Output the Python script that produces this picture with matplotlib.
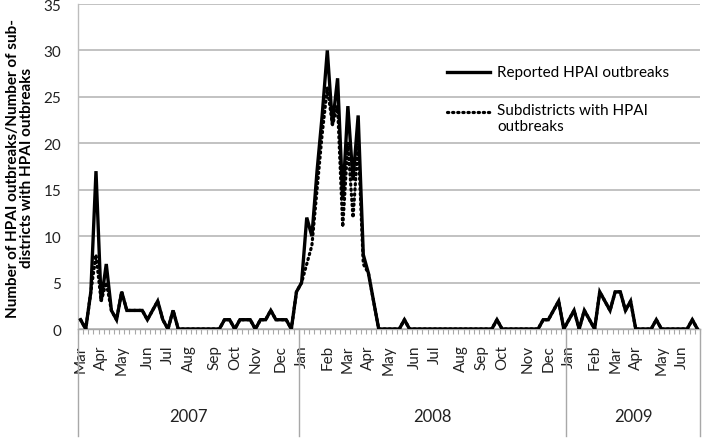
import numpy as np
import pandas as pd
import matplotlib
matplotlib.use("Agg")
import matplotlib.pyplot as plt
import matplotlib.transforms as mtransforms

plt.rcParams["font.family"] = ["Lato", "DejaVu Sans"]

# ---- data (weekly, from week of 8 Mar 2007) ----
first_week = "2007-03-08"
reported_2007 = [1, 0, 4, 17, 3, 7, 2, 1, 4, 2, 2, 2, 2, 1, 2, 3, 1, 0, 2, 0,
                 0, 0, 0, 0, 0, 0, 0, 0,
                 1, 1, 0, 1, 1, 1, 0, 1, 1, 2, 1, 1, 1, 0, 4]
reported_2008 = [5, 12, 10, 17, 23, 30, 22, 27, 14, 24, 16, 23, 8, 6, 3, 0, 0, 0, 0, 0, 1,
                 0, 0, 0, 0, 0, 0, 0, 0, 0, 0, 0, 0, 0, 0, 0, 0, 0,
                 1, 0, 0, 0, 0, 0, 0, 0, 0, 1, 1, 2, 3, 0]
reported_2009 = [1, 2, 0, 2, 1, 0, 4, 3, 2, 4, 4, 2, 3, 0, 0, 0, 0, 1,
                 0, 0, 0, 0, 0, 0, 1, 0]

subdist_2007 = [1, 0, 4, 8, 3, 5, 2, 1, 4, 2, 2, 2, 2, 1, 2, 3, 1, 0, 2, 0,
                0, 0, 0, 0, 0, 0, 0, 0,
                1, 1, 0, 1, 1, 1, 0, 1, 1, 2, 1, 1, 1, 0, 4]
subdist_2008 = [5, 7, 9, 15, 21, 26, 22, 24, 11, 20, 12, 20, 7, 6, 3, 0, 0, 0, 0, 0, 1,
                0, 0, 0, 0, 0, 0, 0, 0, 0, 0, 0, 0, 0, 0, 0, 0, 0,
                1, 0, 0, 0, 0, 0, 0, 0, 0, 1, 1, 2, 3, 0]
subdist_2009 = [1, 2, 0, 2, 1, 0, 4, 3, 2, 4, 4, 2, 3, 0, 0, 0, 0, 1,
                0, 0, 0, 0, 0, 0, 1, 0]

series_labels = ["Reported HPAI outbreaks", "Subdistricts with HPAI\noutbreaks"]
y_label = "Number of HPAI outbreaks/Number of sub-\ndistricts with HPAI outbreaks"
y_ticks = [0, 5, 10, 15, 20, 25, 30, 35]

reported = reported_2007 + reported_2008 + reported_2009
subdist = subdist_2007 + subdist_2008 + subdist_2009
N = len(reported)
weeks = pd.date_range(first_week, periods=N, freq="7D")
x = np.arange(N)

month_labels = []
prev = None
for d in weeks:
    key = (d.year, d.month)
    month_labels.append(d.strftime("%b") if key != prev else "")
    prev = key
years = weeks.year.values

# ---- figure ----
W, H = 702, 439
fig = plt.figure(figsize=(W / 100, H / 100), dpi=100)
ax_l, ax_r, ax_t, ax_b = 78, 700, 5, 330
ax = fig.add_axes([ax_l / W, 1 - ax_b / H, (ax_r - ax_l) / W, (ax_b - ax_t) / H])

grid_c = "#bdbdbd"
ax.set_ylim(0, 35)
ax.set_xlim(-0.5, N - 0.5)
ax.set_yticks(y_ticks)
ax.yaxis.grid(True, color=grid_c, lw=1.3)
ax.set_axisbelow(True)
for s in ["top", "right"]:
    ax.spines[s].set_visible(False)
ax.spines["left"].set_color(grid_c)
ax.spines["bottom"].set_color("#a8a8a8")
ax.spines["left"].set_linewidth(1.0)
ax.spines["bottom"].set_linewidth(1.0)
ax.tick_params(axis="y", length=0, pad=12, labelsize=11, labelcolor="#222222")

ax.plot(x, reported, color="black", lw=2.4, solid_joinstyle="miter", zorder=3)
ax.plot(x, subdist, color="black", lw=2.3, linestyle=(0, (0.4, 1.2)),
        dash_capstyle="round", zorder=4)

# x axis: month labels, minor ticks between categories
ax.set_xticks(x)
ax.set_xticklabels(month_labels, rotation=90, fontsize=11, color="#222222")
ax.tick_params(axis="x", which="major", length=0, pad=11)
ax.set_xticks(np.arange(-0.5, N, 1), minor=True)
ax.tick_params(axis="x", which="minor", length=3.5, color="#a8a8a8", width=0.8)

# year groups
trans = mtransforms.blended_transform_factory(ax.transData, ax.transAxes)
bottom_frac = -(437 - ax_b) / (ax_b - ax_t)
year_frac = -(417 - ax_b) / (ax_b - ax_t)
uy = sorted(set(years))
bounds = [-0.5]
for yv in uy:
    idx = np.where(years == yv)[0]
    bounds.append(idx[-1] + 0.5)
    ax.text((idx[0] + idx[-1]) / 2, year_frac, str(yv), transform=trans,
            ha="center", va="center", fontsize=12, color="#222222")
for b in bounds:
    ax.plot([b, b], [0, bottom_frac], transform=trans, color="#a8a8a8",
            lw=1.0, clip_on=False)

# legend (manual)
lx0, lx1, tx = (447 - ax_l) / (ax_r - ax_l), (490 - ax_l) / (ax_r - ax_l), (497 - ax_l) / (ax_r - ax_l)
ly1 = (ax_b - 73) / (ax_b - ax_t)
ly2 = (ax_b - 113) / (ax_b - ax_t)
ax.plot([lx0, lx1], [ly1, ly1], transform=ax.transAxes, color="black", lw=2.4)
ax.plot([lx0, lx1], [ly2, ly2], transform=ax.transAxes, color="black", lw=2.3,
        linestyle=(0, (0.4, 1.2)), dash_capstyle="round")
ax.text(tx, ly1, series_labels[0], transform=ax.transAxes, ha="left", va="center",
        fontsize=11, color="black")
ax.text(tx, ly2 + 0.029, series_labels[1], transform=ax.transAxes, ha="left", va="top",
        fontsize=11, color="black", linespacing=1.25)

fig.text(20 / W, 1 - 168 / H, y_label, rotation=90, ha="center", va="center",
         multialignment="center", fontsize=11, fontweight="bold", linespacing=1.05)

fig.savefig("out.png", dpi=100)
